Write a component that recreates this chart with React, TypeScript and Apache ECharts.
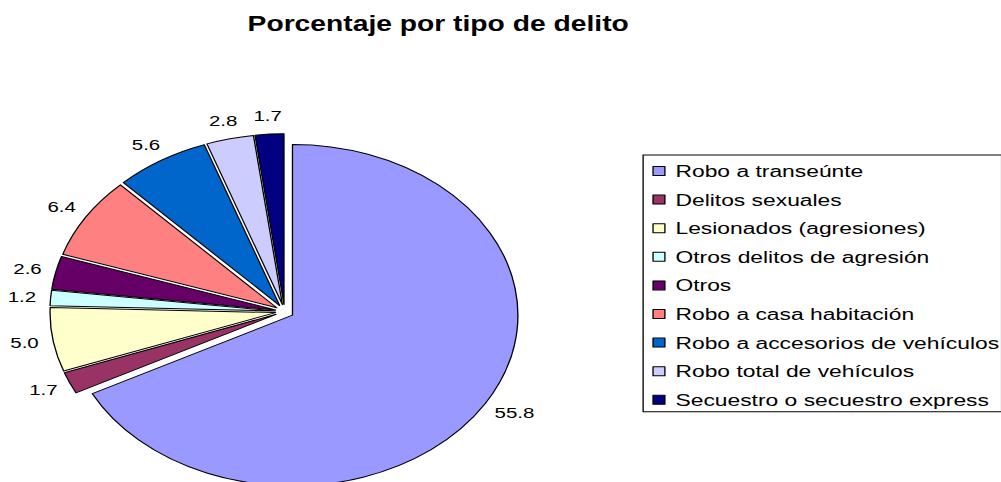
import React, { useEffect, useRef } from "react";
import * as echarts from "echarts";

const categories = [
  "Robo a transeúnte",
  "Delitos sexuales",
  "Lesionados (agresiones)",
  "Otros delitos de agresión",
  "Otros",
  "Robo a casa habitación",
  "Robo a accesorios de vehículos",
  "Robo total de vehículos",
  "Secuestro o secuestro express",
];
const values = [55.8, 1.7, 5.0, 1.2, 2.6, 6.4, 5.6, 2.8, 1.7];
const colors = [
  "#9999FF",
  "#993366",
  "#FFFFCC",
  "#CCFFFF",
  "#660066",
  "#FF8080",
  "#0066CC",
  "#CCCCFF",
  "#000080",
];
const titleText = "Porcentaje por tipo de delito";

// layout (unstretched chart coordinates; the whole chart is stretched horizontally)
const CHART_W = 758;
const CHART_H = 482;
const STRETCH = 1001 / CHART_W;
const CX = 215.5;
const CY = 311.5;
const R = 170.7;
const EXPLODE = 7;
const LABEL_GAP = 11;
const LABEL_SIZE = 15.5;
const FONT = "'Liberation Sans', Arial, Helvetica, sans-serif";

function measure(text: string, size: number): number {
  const c = document.createElement("canvas").getContext("2d");
  if (!c) return text.length * size * 0.55;
  c.font = `${size}px 'Liberation Sans', Arial, sans-serif`;
  return c.measureText(text).width;
}

export default function App() {
  const ref = useRef<HTMLDivElement>(null);

  useEffect(() => {
    if (!ref.current) return;
    const chart = echarts.init(ref.current, undefined, { renderer: "svg" });
    const total = values.reduce((a, b) => a + b, 0);
    let cum = 0;
    const labels = values.map((v) => {
      const a = ((cum + v / 2) / total) * 2 * Math.PI;
      cum += v;
      const ux = Math.sin(a);
      const uy = -Math.cos(a);
      const text = v.toFixed(1);
      const w = measure(text, LABEL_SIZE);
      const h = LABEL_SIZE * 0.9;
      const d = EXPLODE + R + LABEL_GAP;
      return {
        type: "text",
        silent: true,
        x: CX + d * ux + (ux * w) / 2,
        y: CY + d * uy + (uy * h) / 2,
        style: {
          text,
          fontFamily: FONT,
          fontSize: LABEL_SIZE,
          fill: "#000",
          align: "center",
          verticalAlign: "middle",
        },
      };
    });

    chart.setOption({
      animation: false,
      backgroundColor: "#ffffff",
      title: {
        text: titleText,
        left: 331.8,
        top: 13,
        padding: 0,
        textAlign: "center",
        textStyle: {
          fontFamily: FONT,
          fontWeight: "bold",
          fontSize: 21.4,
          color: "#000",
        },
      },
      legend: {
        orient: "vertical",
        left: 487,
        top: 155,
        padding: [6, 2, 2, 7],
        itemWidth: 9,
        itemHeight: 9,
        itemGap: 8.6,
        icon: "rect",
        borderColor: "#000",
        borderWidth: 1,
        data: categories,
        itemStyle: { borderColor: "#000", borderWidth: 1 },
        textStyle: {
          fontFamily: FONT,
          fontSize: 17.3,
          lineHeight: 20,
          color: "#000",
          padding: [0, 0, 0, 3],
        },
        selectedMode: false,
      },
      graphic: labels,
      series: [
        {
          type: "pie",
          center: [CX, CY],
          radius: R,
          startAngle: 90,
          clockwise: true,
          selectedMode: "multiple",
          selectedOffset: EXPLODE,
          avoidLabelOverlap: false,
          emphasis: { disabled: true },
          itemStyle: { borderColor: "#000", borderWidth: 1 },
          label: { show: false },
          labelLine: { show: false },
          data: categories.map((name, i) => ({
            name,
            value: values[i],
            selected: true,
            itemStyle: { color: colors[i] },
          })),
        },
      ],
    });
    return () => chart.dispose();
  }, []);

  return (
    <div
      style={{
        position: "absolute",
        left: 0,
        top: 0,
        width: 1001,
        height: CHART_H,
        overflow: "hidden",
        background: "#fff",
      }}
    >
      <div
        ref={ref}
        style={{
          width: CHART_W,
          height: CHART_H,
          transform: `scaleX(${STRETCH})`,
          transformOrigin: "0 0",
        }}
      />
    </div>
  );
}
